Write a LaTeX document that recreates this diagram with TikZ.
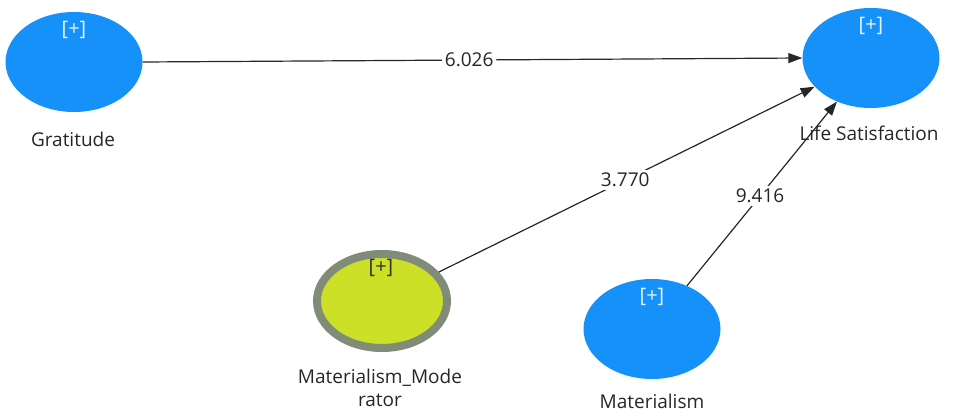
\documentclass[tikz,border=0pt]{standalone}
\usepackage{fontspec}
\setmainfont{Open Sans}
\usetikzlibrary{arrows.meta,shapes.geometric}
\definecolor{lvblue}{RGB}{22,145,250}
\definecolor{modfill}{RGB}{204,224,40}
\definecolor{modring}{RGB}{128,140,120}
\begin{document}
\begin{tikzpicture}[x=1pt,y=-1pt,
  lv/.style={ellipse,fill=lvblue,minimum width=137pt,minimum height=100pt,inner sep=0pt},
  modlv/.style={ellipse,fill=modfill,draw=modring,line width=8pt,minimum width=130pt,minimum height=94pt,inner sep=0pt},
  plus/.style={font=\fontsize{20}{22}\selectfont,text=white!90!lvblue},
  lbl/.style={font=\fontsize{19}{23}\selectfont,text=black!85,align=center},
  coef/.style={font=\fontsize{19}{21}\selectfont,fill=white,inner sep=3pt,text=black!85},
  edgeline/.style={draw=black!85,line width=1.2pt,-{Triangle[length=14pt,width=10pt]}}]
\useasboundingbox (0,0) rectangle (956,412);
\node[lv] (grat) at (74,62) {};
\node[lv] (life) at (871,58) {};
\node[modlv] (mod) at (382,301) {};
\node[lv] (mat) at (652,329) {};
\node[plus] (gratp) at (74,30) {[+]};
\node[plus] (lifep) at (871,26) {[+]};
\node[plus,text=black!80] (modp) at (381,268) {[+]};
\node[plus] (matp) at (652,297) {[+]};
\node[lbl] (gratl) at (73,139) {Gratitude};
\node[lbl] (lifel) at (869,133) {Life Satisfaction};
\node[lbl] (modl) at (380,388) {Materialism\_Mode\\rator};
\node[lbl] (matl) at (652,401) {Materialism};
\draw[edgeline] (grat.east) -- (life.west) node[coef,pos=0.495] (c1) {6.026};
\draw[edgeline] (mod.27) -- (life.207) node[coef,pos=0.496] (c2) {3.770};
\draw[edgeline] (mat.51) -- (life.232) node[coef,pos=0.487] (c3) {9.416};
\end{tikzpicture}
\end{document}
